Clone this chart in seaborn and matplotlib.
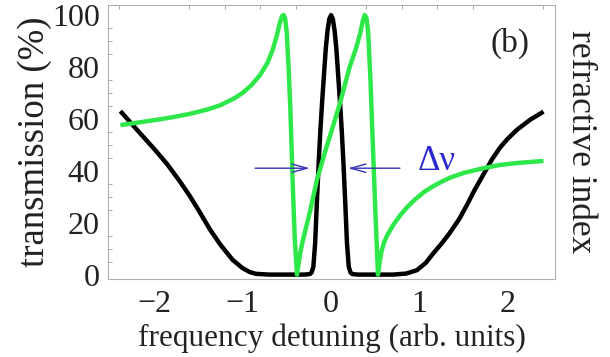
import matplotlib
matplotlib.use("Agg")
import matplotlib.pyplot as plt
import seaborn as sns
import pandas as pd
from matplotlib.ticker import MultipleLocator, FixedLocator

# ---- data ----
trans_x = [-2.38, -2.19, -2.0, -1.85, -1.71, -1.6, -1.5, -1.37, -1.25, -1.11, -1.0, -0.92, -0.85, -0.7, -0.5,
           -0.3, -0.24, -0.22, -0.20, -0.18, -0.16, -0.14, -0.12, -0.10, -0.08, -0.06, -0.04, -0.02, 0.0,
           0.02, 0.04, 0.06, 0.08, 0.10, 0.12, 0.14, 0.16, 0.18, 0.20, 0.22, 0.24, 0.3, 0.5, 0.7, 0.85,
           0.97, 1.07, 1.15, 1.25, 1.34, 1.45, 1.53, 1.62, 1.72, 1.82, 1.91, 2.0, 2.10, 2.25, 2.40]
trans_y = [63.0, 55.7, 48.5, 42.5, 36.0, 30.5, 25.0, 17.5, 11.5, 5.6, 2.5, 1.0, 0.3, 0.0, 0.0,
           0.0, 0.2, 0.8, 3.0, 12.0, 28.0, 43.0, 56.0, 67.0, 77.0, 87.0, 94.0, 98.5, 100.0,
           98.5, 94.0, 87.0, 77.0, 67.0, 56.0, 43.0, 28.0, 12.0, 3.0, 0.8, 0.2, 0.0, 0.0, 0.0, 0.4,
           1.7, 4.5, 8.0, 12.0, 16.0, 21.5, 26.5, 32.5, 38.5, 44.5, 49.0, 52.5, 55.8, 59.7, 62.8]

index_x = [-2.38, -2.2, -2.0, -1.8, -1.6, -1.4, -1.25, -1.1, -1.0, -0.9, -0.8, -0.72, -0.66, -0.61,
           -0.575, -0.55, -0.535, -0.52, -0.50, -0.48, -0.46, -0.43, -0.41, -0.385, -0.35, -0.32,
           -0.24, -0.16, -0.07, 0.02, 0.10, 0.21, 0.28, 0.33, 0.36, 0.38, 0.40, 0.42, 0.445, 0.47,
           0.50, 0.53, 0.55, 0.57, 0.60, 0.64, 0.70, 0.78, 0.86, 0.95, 1.05, 1.15, 1.25, 1.34, 1.5,
           1.72, 1.9, 2.1, 2.4]
index_y = [57.6, 58.5, 59.5, 60.6, 61.9, 63.6, 65.3, 67.8, 70.0, 73.0, 77.0, 81.5, 86.5, 92.5,
           97.5, 99.8, 100.0, 99.0, 93.0, 80.0, 64.0, 32.0, 14.0, 0.0, 8.0, 13.0,
           24.0, 36.4, 47.0, 57.0, 66.0, 80.0, 87.0, 93.0, 98.0, 100.0, 99.0, 93.0, 75.0, 52.0,
           25.0, 0.0, 5.0, 9.0, 12.5, 15.5, 19.0, 22.8, 26.0, 29.0, 31.8, 34.0, 35.8, 37.3, 39.2,
           41.0, 42.2, 43.0, 43.8]

x_tick_labels = [-2, -1, 0, 1, 2]
y_tick_labels = [0, 20, 40, 60, 80, 100]

# linewidth marker (Δν) annotation
dnu_level = 41.0
dnu_left_tail, dnu_left_head = -0.89, -0.21
dnu_right_tail, dnu_right_head = 0.81, 0.16

df_t = pd.DataFrame({"x": trans_x, "y": trans_y})
df_n = pd.DataFrame({"x": index_x, "y": index_y})

sns.set_style("white")
plt.rcParams["font.family"] = ["Liberation Serif", "DejaVu Serif"]

fig = plt.figure(figsize=(6.10, 3.57), dpi=100)
ax = fig.add_axes([108/610, 1-279/357, (555-108)/610, (279-5)/357])

sns.lineplot(data=df_t, x="x", y="y", sort=False, estimator=None, ax=ax,
             color="black", linewidth=3.2, solid_capstyle="butt")
sns.lineplot(data=df_n, x="x", y="y", sort=False, estimator=None, ax=ax,
             color="#2ee84a", linewidth=3.2, solid_capstyle="butt")

ax.set_xlim(-2.52, 2.53)
ax.set_ylim(-1.7, 103.9)

# ticks
ax.xaxis.set_major_locator(FixedLocator(x_tick_labels))
ax.yaxis.set_major_locator(FixedLocator(y_tick_labels))
ax.xaxis.set_minor_locator(MultipleLocator(0.4))
ax.yaxis.set_minor_locator(MultipleLocator(5))
ax.tick_params(axis="both", which="major", direction="in", length=0, labelsize=23,
               colors="#222222", top=True, right=True)
ax.tick_params(axis="x", which="major", pad=8)
ax.tick_params(axis="y", which="major", pad=6)
ax.tick_params(axis="both", which="minor", direction="in", length=3, width=0.6,
               color="#999999", top=True, right=True)
ax.set_xticklabels(["\u22122", "\u22121", "0", "1", "2"])
for s in ax.spines.values():
    s.set_color("#b0b0b0")
    s.set_linewidth(0.8)

ax.set_xlabel("frequency detuning (arb. units)", fontsize=22.5, color="#222222", labelpad=3)
ax.set_ylabel("transmission (%)", fontsize=26.5, color="#222222", labelpad=0)

ax2 = ax.twinx()
ax2.set_ylim(ax.get_ylim())
ax2.set_yticks([])
ax2.spines[:].set_visible(False)
ax2.set_ylabel("refractive index", fontsize=25.5, color="#222222", rotation=-90, labelpad=30)

# Δν arrows
arrow_kw = dict(arrowstyle="->,head_length=1.1,head_width=0.3", color="#3535b5", lw=1.0)
ax.annotate("", xy=(dnu_left_head, dnu_level), xytext=(dnu_left_tail, dnu_level), arrowprops=arrow_kw)
ax.annotate("", xy=(dnu_right_head, dnu_level), xytext=(dnu_right_tail, dnu_level), arrowprops=arrow_kw)
ax.text(0.98, 43.5, "\u0394\u03bd", color="#2a2ad0", fontsize=25, ha="left", va="center")
ax.text(2.02, 89, "(b)", color="#222222", fontsize=24, ha="center", va="center")

fig.savefig("out.png", dpi=100)
